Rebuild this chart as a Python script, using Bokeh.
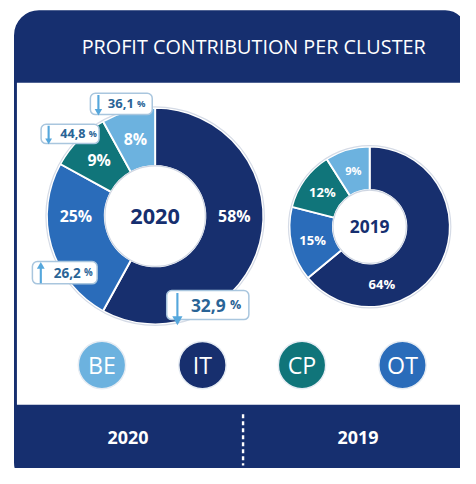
import math
from bokeh.plotting import figure
from bokeh.models import Range1d
from bokeh.core.properties import value
from bokeh.embed import file_html
from bokeh.resources import INLINE

# ---------------- data ----------------
title = "PROFIT CONTRIBUTION PER CLUSTER"
clusters = ["IT", "OT", "CP", "BE"]            # clockwise order from 12 o'clock
share_2020 = [58, 25, 9, 8]
share_2019 = [64, 15, 12, 9]
change_2020 = ["32,9", "26,2", "44,8", "36,1"]
change_dir_2020 = [-1, 1, -1, -1]
legend_order = ["BE", "IT", "CP", "OT"]
years = ["2020", "2019"]

# ---------------- style ----------------
NAVY = "#162f6f"
COLORS = {"IT": "#172f6e", "OT": "#2a6cba", "CP": "#10757a", "BE": "#6cb2df"}
BADGE_TXT = "#2a6496"
BADGE_BORDER = "#a9c6de"
ARROW = "#55a7dc"
FONT = value("Open Sans")

REF_W, REF_H = 476, 484
W, H = 460, 468
S = W / REF_W


def px(v):
    return f"{v * S:.1f}px"


p = figure(width=W, height=H, x_range=Range1d(0, REF_W), y_range=Range1d(0, REF_H),
           output_backend="svg", toolbar_location=None, min_border=0)
p.axis.visible = False
p.grid.visible = False
p.outline_line_color = None
p.background_fill_color = "white"
p.border_fill_color = "white"


def Y(ry):
    return REF_H - ry


# panel
p.quad(left=[14], right=[482], top=[Y(10)], bottom=[Y(500)], fill_color=NAVY, line_color=None,
       border_radius=(25, 21, 0, 21))
p.quad(left=[17], right=[520], top=[Y(85)], bottom=[Y(418)], fill_color="white", line_color=None)
p.text(x=[262], y=[Y(48)], text=[title], text_color="white", text_font=FONT, text_font_size=px(20.5),
       text_align="center", text_baseline="middle")

# bottom band
p.segment(x0=[251], y0=[Y(428)], x1=[251], y1=[Y(481)], line_color="white", line_width=2.5 * S,
          line_dash="4 3")
p.text(x=[132, 370], y=[Y(452), Y(452)], text=years, text_color="white", text_font=FONT,
       text_font_size=px(18.5), text_font_style="bold", text_align="center", text_baseline="middle")


def donut(cx, cy, r_in, r_out, shares, label_sizes, label_override, center_text, center_size):
    total = float(sum(shares))
    cum = 0.0
    lx, ly, lt, ls = [], [], [], []
    for name, s, fs in zip(clusters, shares, label_sizes):
        t1 = cum / total * 360.0
        cum += s
        t2 = cum / total * 360.0
        p.annular_wedge(x=[cx], y=[Y(cy)], inner_radius=r_in, outer_radius=r_out,
                        start_angle=[math.radians(90 - t2)], end_angle=[math.radians(90 - t1)],
                        fill_color=COLORS[name], line_color="white", line_width=2 * S)
        mid = label_override.get(name, (t1 + t2) / 2.0)
        rr = (r_in + r_out) / 2.0
        lx.append(cx + rr * math.sin(math.radians(mid)))
        ly.append(Y(cy) + rr * math.cos(math.radians(mid)))
        lt.append(f"{s}%")
        ls.append(fs)
    p.circle(x=[cx], y=[Y(cy)], radius=r_out + 1, fill_color=None, line_color="#d5dbe6", line_width=1.2)
    p.circle(x=[cx], y=[Y(cy)], radius=r_in, fill_color="white", line_color="#cfd6e2", line_width=1.2)
    for x, y, t, fs in zip(lx, ly, lt, ls):
        p.text(x=[x], y=[y], text=[t], text_color="white", text_font=FONT, text_font_size=px(fs),
               text_font_style="bold", text_align="center", text_baseline="middle")
    p.text(x=[cx], y=[Y(cy)], text=[center_text], text_color=NAVY, text_font=FONT,
           text_font_size=px(center_size), text_font_style="bold", text_align="center",
           text_baseline="middle")


donut(160, 223, 52, 112, share_2020, [16.5, 16.5, 16.5, 16.5], {"IT": 90, "OT": 270}, years[0], 22.5)
donut(382, 234, 38, 83, share_2019, [13.5, 13.5, 13.5, 11.5], {"IT": 168}, years[1], 18)

# change badges (2020): left, right, top, bottom, font size, split x between number and "%"
badge_layout = {
    "IT": (172, 257, 300, 330, 18, 233),
    "OT": (33, 100, 270, 293, 14, 83),
    "CP": (42, 102, 128, 148, 13, 88),
    "BE": (93, 157, 96, 118, 13.5, 138),
}
for name, chg, d in zip(clusters, change_2020, change_dir_2020):
    l, r, t, b, fs, split = badge_layout[name]
    p.quad(left=[l], right=[r], top=[Y(t)], bottom=[Y(b)], fill_color="white", line_color=BADGE_BORDER,
           line_width=1.5, border_radius=5)
    ax = l + 0.13 * (r - l)
    h = (b - t)
    head = 0.32 * h
    ytop = Y(t + 0.08 * h)
    ybot = Y(b + 4) if name == "IT" else Y(b - 0.02 * h)
    if d < 0:
        p.segment(x0=[ax], y0=[ytop], x1=[ax], y1=[ybot + head * 0.6], line_color=ARROW, line_width=2.2 * S)
        p.scatter(x=[ax], y=[ybot + head * 0.45], marker="inverted_triangle", size=head * S * 1.1,
                  fill_color=ARROW, line_color=None)
    else:
        p.segment(x0=[ax], y0=[ybot], x1=[ax], y1=[ytop - head * 0.6], line_color=ARROW, line_width=2.2 * S)
        p.scatter(x=[ax], y=[ytop - head * 0.45], marker="triangle", size=head * S * 1.1,
                  fill_color=ARROW, line_color=None)
    p.text(x=[split], y=[Y((t + b) / 2)], text=[chg], text_color=BADGE_TXT, text_font=FONT,
           text_font_size=px(fs), text_font_style="bold", text_align="right", text_baseline="middle")
    p.text(x=[split + 0.25 * fs], y=[Y((t + b) / 2) + 0.05 * fs], text=["%"], text_color=BADGE_TXT,
           text_font=FONT, text_font_size=px(fs * 0.72), text_font_style="bold", text_align="left",
           text_baseline="middle")

# legend circles
leg_x = [105, 209, 312, 416]
p.circle(x=leg_x, y=[Y(377)] * 4, radius=24.5,
         fill_color=[COLORS[n] for n in legend_order], line_color="#e6ecf3", line_width=1.5)
p.text(x=leg_x, y=[Y(377)] * 4, text=legend_order, text_color="white", text_font=FONT,
       text_font_size=px(24), text_align="center", text_baseline="middle")

open("out.html", "w").write(file_html(p, INLINE))
